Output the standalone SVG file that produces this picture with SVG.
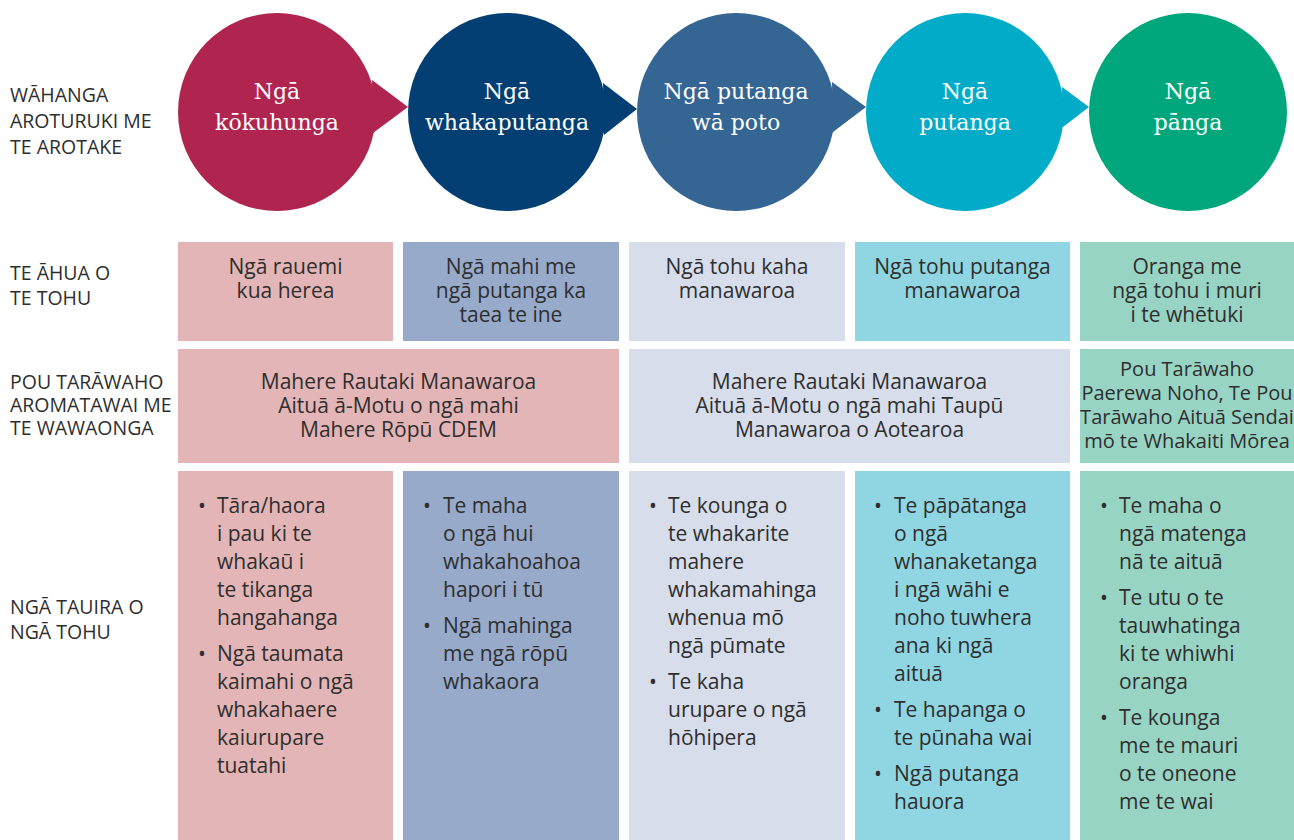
<svg xmlns="http://www.w3.org/2000/svg" width="1294" height="840" viewBox="0 0 1294 840">
  <style>
    .lbl { font-family: "Open Sans", "Liberation Sans", sans-serif; font-size: 19.5px; fill: #2e2e2e; }
    .cell { font-family: "Open Sans", "Liberation Sans", sans-serif; font-size: 21px; fill: #2e2e2e; }
    .small { font-size: 20px; }
    .mid { text-anchor: middle; }
    .head { font-family: "DejaVu Serif", "Liberation Serif", serif; font-size: 22px; fill: #ffffff; text-anchor: middle; }
    .c1 { fill: #b0254f; } .c2 { fill: #033f72; } .c3 { fill: #346593; }
    .c4 { fill: #02abc7; } .c5 { fill: #00a77d; }
    .p1 { fill: #e4b5b6; } .p2 { fill: #97aaca; } .p3 { fill: #d7ddea; }
    .p4 { fill: #8fd6e2; } .p5 { fill: #98d4c4; }
  </style>
  <rect width="1294" height="840" fill="#ffffff"/>

  <!-- row labels -->
  <g id="row-labels" class="lbl">
    <text x="10" y="102">WĀHANGA<tspan x="10" dy="26">AROTURUKI ME</tspan><tspan x="10" dy="26">TE AROTAKE</tspan></text>
    <text x="10" y="280">TE ĀHUA O<tspan x="10" dy="25">TE TOHU</tspan></text>
    <text x="10" y="389">POU TARĀWAHO<tspan x="10" dy="23">AROMATAWAI ME</tspan><tspan x="10" dy="23">TE WAWAONGA</tspan></text>
    <text x="10" y="614">NGĀ TAUIRA O<tspan x="10" dy="25">NGĀ TOHU</tspan></text>
  </g>

  <!-- stage bubbles: each circle carries a pointer towards the next stage -->
  <g id="connectors">
    <polygon class="c1" points="372,80 408,107 373,133"/>
    <polygon class="c2" points="603,83 637,109 604,135"/>
    <polygon class="c3" points="832,82 866,107 833,132"/>
    <polygon class="c4" points="1062,87 1089,107 1063,127"/>
  </g>

  <g id="stage-inputs">
    <circle class="c1" cx="277" cy="112" r="99"/>
    <text class="head" x="277" y="99">Ngā<tspan x="277" dy="31">kōkuhunga</tspan></text>
  </g>
  <g id="stage-outputs">
    <circle class="c2" cx="507" cy="112" r="99"/>
    <text class="head" x="507" y="99">Ngā<tspan x="507" dy="31">whakaputanga</tspan></text>
  </g>
  <g id="stage-short-term">
    <circle class="c3" cx="736" cy="112" r="99"/>
    <text class="head" x="736" y="99">Ngā putanga<tspan x="736" dy="31">wā poto</tspan></text>
  </g>
  <g id="stage-outcomes">
    <circle class="c4" cx="965" cy="112" r="99"/>
    <text class="head" x="965" y="99">Ngā<tspan x="965" dy="31">putanga</tspan></text>
  </g>
  <g id="stage-impacts">
    <circle class="c5" cx="1188" cy="112" r="99"/>
    <text class="head" x="1188" y="99">Ngā<tspan x="1188" dy="31">pānga</tspan></text>
  </g>

  <!-- row 1: nature of the indicator -->
  <g id="nature-1">
    <rect class="p1" x="178" y="242" width="215" height="99"/>
    <text class="cell mid" x="285.5" y="274">Ngā rauemi<tspan x="285.5" dy="24">kua herea</tspan></text>
  </g>
  <g id="nature-2">
    <rect class="p2" x="403" y="242" width="216" height="99"/>
    <text class="cell mid" x="511" y="274">Ngā mahi me<tspan x="511" dy="24">ngā putanga ka</tspan><tspan x="511" dy="24">taea te ine</tspan></text>
  </g>
  <g id="nature-3">
    <rect class="p3" x="629" y="242" width="216" height="99"/>
    <text class="cell mid" x="737" y="274">Ngā tohu kaha<tspan x="737" dy="24">manawaroa</tspan></text>
  </g>
  <g id="nature-4">
    <rect class="p4" x="855" y="242" width="215" height="99"/>
    <text class="cell mid" x="962.5" y="274">Ngā tohu putanga<tspan x="962.5" dy="24">manawaroa</tspan></text>
  </g>
  <g id="nature-5">
    <rect class="p5" x="1080" y="242" width="214" height="99"/>
    <text class="cell mid" x="1187" y="274">Oranga me<tspan x="1187" dy="24">ngā tohu i muri</tspan><tspan x="1187" dy="24">i te whētuki</tspan></text>
  </g>

  <!-- row 2: frameworks -->
  <g id="framework-1">
    <rect class="p1" x="178" y="349" width="441" height="114"/>
    <text class="cell mid" x="398.5" y="389">Mahere Rautaki Manawaroa<tspan x="398.5" dy="24">Aituā ā-Motu o ngā mahi</tspan><tspan x="398.5" dy="24">Mahere Rōpū CDEM</tspan></text>
  </g>
  <g id="framework-2">
    <rect class="p3" x="629" y="349" width="441" height="114"/>
    <text class="cell mid" x="849.5" y="389">Mahere Rautaki Manawaroa<tspan x="849.5" dy="24">Aituā ā-Motu o ngā mahi Taupū</tspan><tspan x="849.5" dy="24">Manawaroa o Aotearoa</tspan></text>
  </g>
  <g id="framework-3">
    <rect class="p5" x="1080" y="349" width="214" height="114"/>
    <text class="cell small mid" x="1187" y="376">Pou Tarāwaho<tspan x="1187" dy="24">Paerewa Noho, Te Pou</tspan><tspan x="1187" dy="24">Tarāwaho Aituā Sendai</tspan><tspan x="1187" dy="24">mō te Whakaiti Mōrea</tspan></text>
  </g>

  <!-- row 3: example indicators -->
  <g id="examples-1" class="cell">
    <rect class="p1" x="178" y="471" width="215" height="369"/>
    <text x="198" y="513">•</text>
    <text x="217" y="513">Tāra/haora<tspan x="217" dy="28">i pau ki te</tspan><tspan x="217" dy="28">whakaū i</tspan><tspan x="217" dy="28">te tikanga</tspan><tspan x="217" dy="28">hangahanga</tspan></text>
    <text x="198" y="661">•</text>
    <text x="217" y="661">Ngā taumata<tspan x="217" dy="28">kaimahi o ngā</tspan><tspan x="217" dy="28">whakahaere</tspan><tspan x="217" dy="28">kaiurupare</tspan><tspan x="217" dy="28">tuatahi</tspan></text>
  </g>
  <g id="examples-2" class="cell">
    <rect class="p2" x="403" y="471" width="216" height="369"/>
    <text x="423" y="513">•</text>
    <text x="443" y="513">Te maha<tspan x="443" dy="28">o ngā hui</tspan><tspan x="443" dy="28">whakahoahoa</tspan><tspan x="443" dy="28">hapori i tū</tspan></text>
    <text x="423" y="633">•</text>
    <text x="443" y="633">Ngā mahinga<tspan x="443" dy="28">me ngā rōpū</tspan><tspan x="443" dy="28">whakaora</tspan></text>
  </g>
  <g id="examples-3" class="cell">
    <rect class="p3" x="629" y="471" width="216" height="369"/>
    <text x="649" y="513">•</text>
    <text x="668" y="513">Te kounga o<tspan x="668" dy="28">te whakarite</tspan><tspan x="668" dy="28">mahere</tspan><tspan x="668" dy="28">whakamahinga</tspan><tspan x="668" dy="28">whenua mō</tspan><tspan x="668" dy="28">ngā pūmate</tspan></text>
    <text x="649" y="689">•</text>
    <text x="668" y="689">Te kaha<tspan x="668" dy="28">urupare o ngā</tspan><tspan x="668" dy="28">hōhipera</tspan></text>
  </g>
  <g id="examples-4" class="cell">
    <rect class="p4" x="855" y="471" width="215" height="369"/>
    <text x="874" y="513">•</text>
    <text x="894" y="513">Te pāpātanga<tspan x="894" dy="28">o ngā</tspan><tspan x="894" dy="28">whanaketanga</tspan><tspan x="894" dy="28">i ngā wāhi e</tspan><tspan x="894" dy="28">noho tuwhera</tspan><tspan x="894" dy="28">ana ki ngā</tspan><tspan x="894" dy="28">aituā</tspan></text>
    <text x="874" y="717">•</text>
    <text x="894" y="717">Te hapanga o<tspan x="894" dy="28">te pūnaha wai</tspan></text>
    <text x="874" y="781">•</text>
    <text x="894" y="781">Ngā putanga<tspan x="894" dy="28">hauora</tspan></text>
  </g>
  <g id="examples-5" class="cell">
    <rect class="p5" x="1080" y="471" width="214" height="369"/>
    <text x="1100" y="513">•</text>
    <text x="1119" y="513">Te maha o<tspan x="1119" dy="28">ngā matenga</tspan><tspan x="1119" dy="28">nā te aituā</tspan></text>
    <text x="1100" y="605">•</text>
    <text x="1119" y="605">Te utu o te<tspan x="1119" dy="28">tauwhatinga</tspan><tspan x="1119" dy="28">ki te whiwhi</tspan><tspan x="1119" dy="28">oranga</tspan></text>
    <text x="1100" y="725">•</text>
    <text x="1119" y="725">Te kounga<tspan x="1119" dy="28">me te mauri</tspan><tspan x="1119" dy="28">o te oneone</tspan><tspan x="1119" dy="28">me te wai</tspan></text>
  </g>
</svg>
